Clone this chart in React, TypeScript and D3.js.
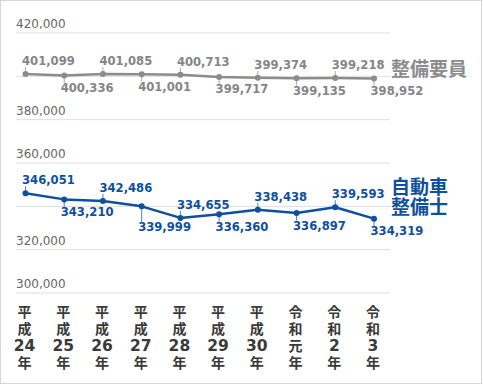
import React from "react";
import * as d3 from "d3";

const categories = ["平成24年", "平成25年", "平成26年", "平成27年", "平成28年", "平成29年", "平成30年", "令和元年", "令和2年", "令和3年"];
const categoryLines = [
  ["平", "成", "24", "年"],
  ["平", "成", "25", "年"],
  ["平", "成", "26", "年"],
  ["平", "成", "27", "年"],
  ["平", "成", "28", "年"],
  ["平", "成", "29", "年"],
  ["平", "成", "30", "年"],
  ["令", "和", "元", "年"],
  ["令", "和", "2", "年"],
  ["令", "和", "3", "年"],
];
const staffValues = [401099, 400336, 401085, 401001, 400713, 399717, 399374, 399135, 399218, 398952];
const mechanicValues = [346051, 343210, 342486, 339999, 334655, 336360, 338438, 336897, 339593, 334319];
const gridValues = [300000, 320000, 340000, 360000, 380000, 400000, 420000];
const tickLabelValues = [300000, 320000, 360000, 380000, 420000];
const staffName = ["整備要員"];
const mechanicName = ["自動車", "整備士"];

const W = 483;
const H = 385;
const FONT = "'DejaVu Sans', 'Noto Sans CJK JP', sans-serif";
const GRAY = "#8c8c8c";
const BLUE = "#0e4f9f";

export default function App() {
  const x = d3.scalePoint<string>().domain(categories).range([25.5, 374]);
  const y = d3.scaleLinear().domain([300000, 420000]).range([293, 33]);
  const fmt = d3.format(",");
  const line = d3
    .line<number>()
    .x((_, i) => x(categories[i]) as number)
    .y((d) => y(d));

  const series = [
    { values: staffValues, color: GRAY, labelColor: "#858585" },
    { values: mechanicValues, color: BLUE, labelColor: BLUE },
  ];

  return (
    <svg width={W} height={H} style={{ position: "absolute", left: 0, top: 0, background: "#fff" }} fontFamily={FONT}>
      <rect x={0.5} y={0.5} width={W - 2} height={H - 2} fill="#fff" stroke="#d4d4d4" />
      {gridValues.map((v) => (
        <line key={v} x1={16} x2={390} y1={y(v)} y2={y(v)} stroke="#dedede" strokeWidth={1} />
      ))}
      {tickLabelValues.map((v) => (
        <text key={v} x={16} y={y(v) - 5} fontSize={12} fill="#666">
          {fmt(v)}
        </text>
      ))}
      {series.map((s, si) => (
        <g key={si}>
          <path d={line(s.values) || ""} fill="none" stroke={s.color} strokeWidth={2.5} strokeLinejoin="round" />
          {s.values.map((v, i) => {
            const px = x(categories[i]) as number;
            const py = y(v);
            const above = i % 2 === 0;
            const nextY = i < s.values.length - 1 ? y(s.values[i + 1]) : py;
            const drop = Math.max(0, nextY - py);
            const belowOff = 16.5 + Math.max(0, drop - 3) * 0.95;
            return (
              <g key={i}>
                <line
                  x1={px}
                  x2={px}
                  y1={py}
                  y2={above ? py - 7 : py + belowOff - 9}
                  stroke={s.color}
                  strokeWidth={1}
                  opacity={0.7}
                />
                <circle cx={px} cy={py} r={3} fill={s.color} />
                <text
                  x={px - 3.5}
                  y={above ? py - 9 : py + belowOff}
                  fontSize={11.6}
                  fontWeight="bold"
                  fill={s.labelColor}
                >
                  {fmt(v)}
                </text>
              </g>
            );
          })}
        </g>
      ))}
      {staffName.map((t, i) => (
        <text key={t} x={391} y={76 + i * 20} fontSize={19} fontWeight="bold" fill={GRAY}>
          {t}
        </text>
      ))}
      {mechanicName.map((t, i) => (
        <text key={t} x={391} y={193.5 + i * 20} fontSize={19} fontWeight="bold" fill={BLUE}>
          {t}
        </text>
      ))}
      {categories.map((c, i) => (
        <text key={c} x={(x(c) as number) - 1} textAnchor="middle" fontWeight="bold" fill="#3a3a3a">
          {categoryLines[i].map((part, j) => (
            <tspan key={j} x={(x(c) as number) - 1} y={317 + j * 17} fontSize={/\d/.test(part) ? 15.5 : 14}>
              {part}
            </tspan>
          ))}
        </text>
      ))}
    </svg>
  );
}
